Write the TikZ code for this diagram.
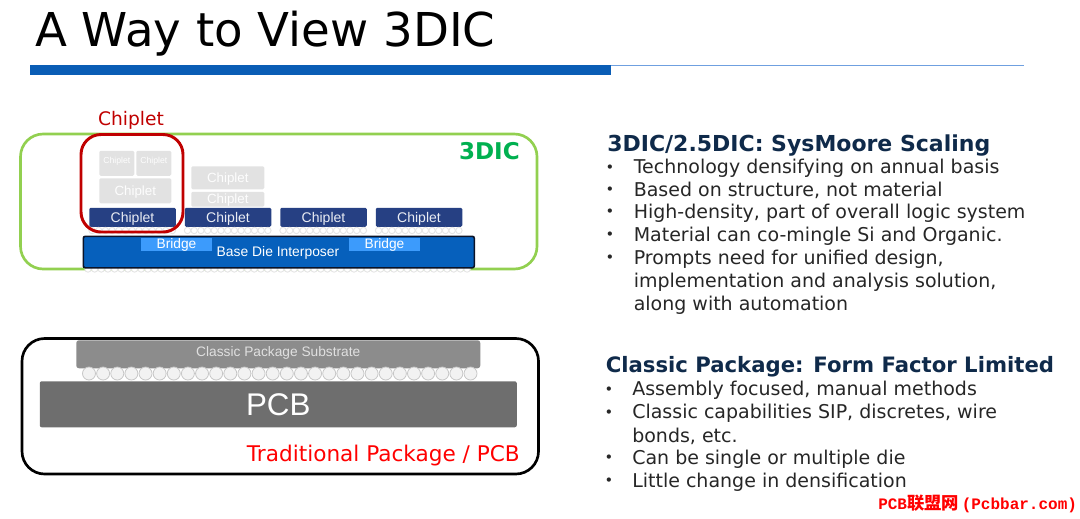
\documentclass[tikz,border=0pt]{standalone}
\usepackage{fontspec}
\setmainfont{DejaVu Sans}
\newfontfamily\hel{Liberation Sans}
\newfontfamily\cjk{Noto Sans CJK SC}
\newfontfamily\wmono{Liberation Mono}
\definecolor{ttl}{HTML}{000000}
\definecolor{barblue}{HTML}{0A5DB5}
\definecolor{thinblue}{HTML}{6FA0E0}
\definecolor{lgreen}{HTML}{92D050}
\definecolor{gtext}{HTML}{00B050}
\definecolor{cred}{HTML}{C00000}
\definecolor{navy}{HTML}{264083}
\definecolor{lgrey}{HTML}{E2E2E2}
\definecolor{head}{HTML}{0F2A4A}
\definecolor{body}{HTML}{262626}
\definecolor{base}{HTML}{0660BC}
\definecolor{bridge}{HTML}{3C9BFC}
\tikzset{
 chip/.style={fill=navy,rounded corners=1pt,inner sep=0pt,minimum width=86.5pt*0.75,minimum height=19pt*0.75,text=white!90!navy,font=\hel\fontsize{10.5}{12}\selectfont,anchor=north west,text height=10pt,text depth=2.2pt},
 ghost/.style={fill=lgrey,rounded corners=1pt,inner sep=0pt,text=white!95!lgrey,anchor=north west,font=\hel\fontsize{10}{12}\selectfont},
 bridgebox/.style={fill=bridge,inner sep=0pt,minimum width=70.5pt*0.75,minimum height=13pt*0.75,text=white,font=\hel\fontsize{10.3}{11}\selectfont,anchor=north west},
 ball/.style={circle,fill=white,draw=black!10,line width=.7pt,minimum size=0pt,inner sep=0pt},
 headline/.style={anchor=west,font=\bfseries\fontsize{16.5}{18}\selectfont,text=head,inner sep=0pt},
 bodyline/.style={anchor=west,font=\fontsize{14.25}{16}\selectfont,text=body,inner sep=0pt},
 dotmark/.style={anchor=center,font=\fontsize{11}{12}\selectfont,text=body,inner sep=0pt},
}
\begin{document}
\begin{tikzpicture}[x=0.75pt,y=-0.75pt]
\useasboundingbox (0,0) rectangle (1080,518);
\node[anchor=west,inner sep=0pt,font=\fontsize{35}{40}\selectfont,text=ttl] (title) at (35,34) {A Way to View 3DIC};
\fill[thinblue] (611,64.5) rectangle (1024,65.8);
\fill[barblue] (30,65) rectangle (611,75);
% 3DIC outline
\draw[lgreen,line width=2pt,rounded corners=17pt] (20.5,134) rectangle (537,269);
\node[anchor=east,inner sep=0pt,font=\bfseries\fontsize{17.3}{18}\selectfont,text=gtext] (l3dic) at (520,151) {3DIC};
% ghost stacks
\node[ghost,minimum width=35pt*.75,minimum height=25pt*.75,align=center] (g1) at (99,150.5) {\raisebox{5pt}{\fontsize{6.5}{7}\selectfont Chiplet}};
\node[ghost,minimum width=35pt*.75,minimum height=25pt*.75,align=center] (g2) at (136,150.5) {\raisebox{5pt}{\fontsize{6.5}{7}\selectfont Chiplet}};
\node[ghost,minimum width=72pt*.75,minimum height=25pt*.75,text height=9.5pt,text depth=2.2pt] (g3) at (99,178) {Chiplet};
\node[ghost,minimum width=73pt*.75,minimum height=23pt*.75,text height=9pt,text depth=2.2pt] (g4) at (191,166) {Chiplet};
\node[ghost,minimum width=73pt*.75,minimum height=13pt*.75,text height=9pt,text depth=2.2pt] (g5) at (191,191.5) {Chiplet};
% chiplets
\node[chip] (c1) at (89,207.5) {Chiplet};
\node[chip] (c2) at (184.5,207.5) {Chiplet};
\node[chip] (c3) at (280,207.5) {Chiplet};
\node[chip] (c4) at (375.5,207.5) {Chiplet};
% chiplet bumps
\foreach \s in {89,184.5,280,375.5}{
 \foreach \i in {0,...,12}{
  \node[ball,minimum size=4.8pt] (b\s-\i) at ({\s+3+\i*6.7},230.5) {};
 }
}
% base die bumps
\foreach \i in {0,...,57}{
 \node[ball,minimum size=4.8pt] (d\i) at ({88+\i*6.65},269) {};
}
% base die
\node[fill=base,draw=black!70!navy,line width=1.2pt,rounded corners=1.5pt,minimum width=391pt*.75,minimum height=31.5pt*.75,inner sep=0pt,anchor=north west] (die) at (82.5,235.5) {};
\node[inner sep=0pt,text=white,font=\hel\fontsize{10.4}{13}\selectfont] (dielabel) at (278,253) {Base Die Interposer};
\node[bridgebox] (br1) at (141,238) {Bridge};
\node[bridgebox] (br2) at (349,238) {Bridge};
% chiplet callout
\draw[cred,line width=2.2pt,rounded corners=15pt] (81,134.5) rectangle (183,232);
\node[inner sep=0pt,text=cred,font=\fontsize{14}{15}\selectfont] (chlabel) at (131,120) {Chiplet};
% classic package
\draw[black,line width=2pt,rounded corners=17pt] (22,338.5) rectangle (538.5,474);
\node[fill=black!45,rounded corners=2pt,minimum width=404pt*.75,minimum height=28pt*.75,inner sep=0pt,anchor=north west,text=white!88!black,font=\hel\fontsize{10.3}{12}\selectfont,text height=7.6pt,text depth=3.6pt] (subst) at (76,340) {Classic Package Substrate};
\foreach \i in {0,...,27}{
 \node[ball,fill=black!5,draw=black!22,line width=.6pt,minimum size=13pt*.75] (p\i) at ({89+\i*14.13},373.5) {};
}
\node[fill=black!57,rounded corners=1.5pt,minimum width=477pt*.75,minimum height=46pt*.75,inner sep=0pt,anchor=north west,text=white,font=\hel\fontsize{23.5}{28}\selectfont] (pcb) at (39.5,381) {PCB};
\node[anchor=east,inner sep=0pt,text=red,font=\fontsize{16.2}{17}\selectfont] (trad) at (520,456) {Traditional Package / PCB};
% right text
\node[headline] (h1) at (607,145.5) {3DIC/2.5DIC: SysMoore Scaling};
\foreach \n/\y/\t in {a/168.5/Technology densifying on annual basis,
 b/190.5/{Based on structure, not material},
 c/213/{High-density, part of overall logic system},
 d/236/Material can co-mingle Si and Organic.,
 e/259/{Prompts need for unified design,}}{
  \node[dotmark] (m\n) at (610,\y) {•};
  \node[bodyline] (t\n) at (633.5,\y) {\t};
}
\node[bodyline] (te2) at (633.5,282) {implementation and analysis solution,};
\node[bodyline] (te3) at (633.5,305) {along with automation};
\node[headline,font=\bfseries\fontsize{15.9}{18}\selectfont] (h2) at (605.5,366.5) {Classic Package: Form Factor Limited};
\foreach \n/\y/\t in {f/390.5/{Assembly focused, manual methods},
 g/413.5/{Classic capabilities SIP, discretes, wire},
 h/459/Can be single or multiple die,
 i/482/Little change in densification}{
  \node[dotmark] (m\n) at (609,\y) {•};
  \node[bodyline] (t\n) at (632,\y) {\t};
}
\node[bodyline] (tg2) at (632,436) {bonds, etc.};
% watermark
\node[anchor=west,inner sep=0pt,text=red,font=\bfseries\fontsize{12}{15}\selectfont] (wm) at (878,504) {\wmono PCB\cjk\fontsize{13}{15}\selectfont 联盟网\wmono\fontsize{12}{15}\selectfont\,(Pcbbar.com)};
\end{tikzpicture}
\end{document}
